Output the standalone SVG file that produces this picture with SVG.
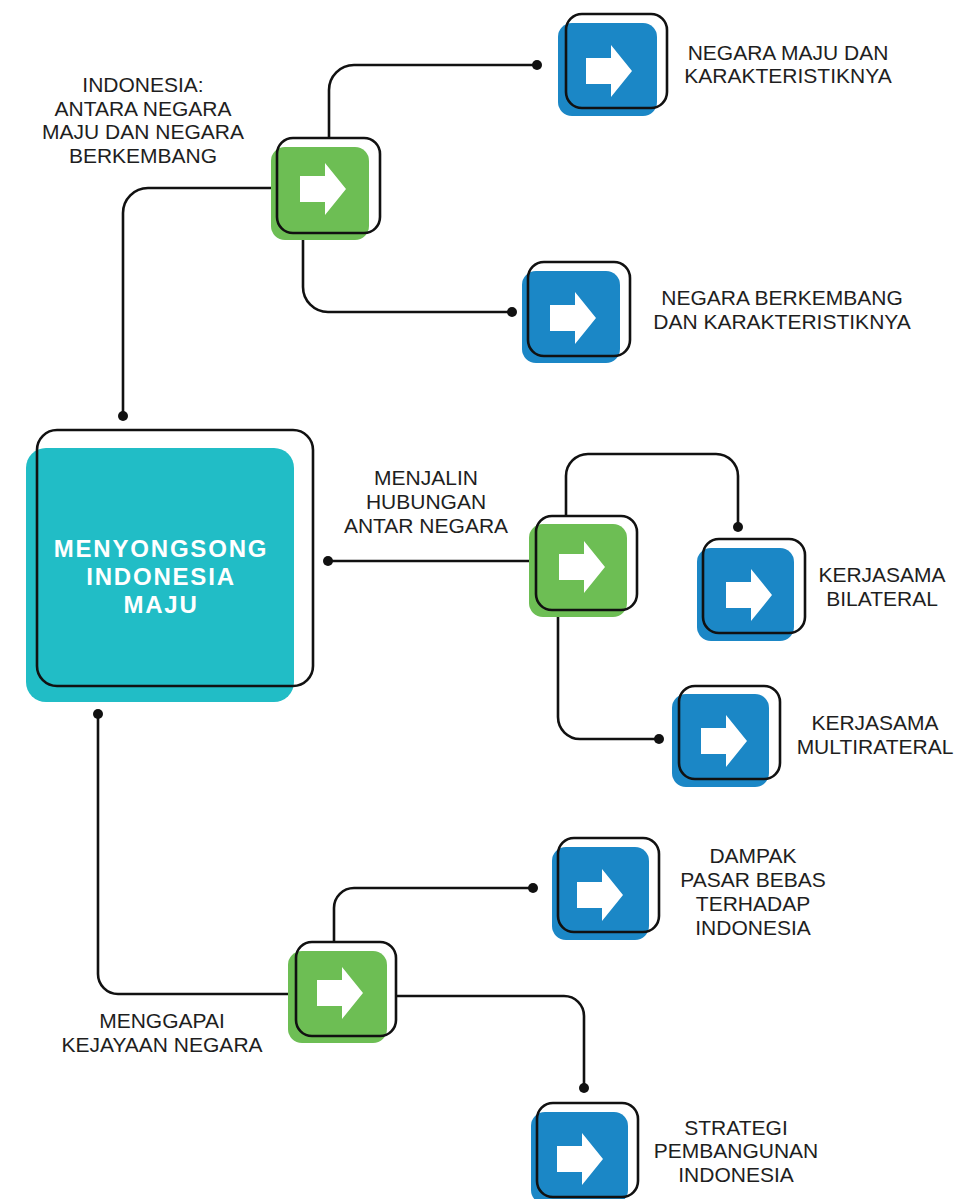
<svg xmlns="http://www.w3.org/2000/svg" xmlns:xlink="http://www.w3.org/1999/xlink" width="954" height="1199" viewBox="0 0 954 1199">
<style>
.gf{fill:#6dbe54}
.bf{fill:#1b87c6}
.tf{fill:#21bdc6}
.ol{fill:none;stroke:#111;stroke-width:2.6}
.arr{fill:#fff}
.con{fill:none;stroke:#111;stroke-width:2.6}
.dot{fill:#111}
.lbl{font-family:"Liberation Sans",Arial,sans-serif;font-size:21px;fill:#1e1e1e;text-anchor:middle}
.main{font-family:"Liberation Sans",Arial,sans-serif;font-size:24px;font-weight:bold;fill:#fff;text-anchor:middle;letter-spacing:1.8px}
</style>
<defs>
<path id="arrow" d="M0,13 H25 V0 L46,26 L25,52 V39 H0 Z"/>
</defs>
<rect width="954" height="1199" fill="#fff"/>

<g id="connectors">
<path class="con" d="M271,188 H148 A25,25 0 0 0 123,213 V416"/>
<circle class="dot" cx="123" cy="416" r="5"/>
<path class="con" d="M329,138 V90 A25,25 0 0 1 354,65 H537"/>
<circle class="dot" cx="537" cy="65" r="5"/>
<path class="con" d="M303,240 V287 A25,25 0 0 0 328,312 H512"/>
<circle class="dot" cx="512" cy="312" r="5"/>
<path class="con" d="M328,561 H529"/>
<circle class="dot" cx="328" cy="561" r="5"/>
<path class="con" d="M566,516 V476 A22,22 0 0 1 588,454 H716 A22,22 0 0 1 738,476 V527"/>
<circle class="dot" cx="738" cy="527" r="5"/>
<path class="con" d="M558,617 V717 A22,22 0 0 0 580,739 H659"/>
<circle class="dot" cx="659" cy="739" r="5"/>
<path class="con" d="M98,714 V974 A20,20 0 0 0 118,994 H288"/>
<circle class="dot" cx="98" cy="714" r="5"/>
<path class="con" d="M334,942 V908 A20,20 0 0 1 354,888 H533"/>
<circle class="dot" cx="533" cy="888" r="5"/>
<path class="con" d="M396,996 H564 A20,20 0 0 1 584,1016 V1088"/>
<circle class="dot" cx="584" cy="1088" r="5"/>
</g>

<g id="node-main">
<rect class="tf" x="26" y="448" width="268" height="254" rx="20"/>
<rect class="ol" x="37" y="430" width="276" height="256" rx="20"/>
<text class="main" x="161" y="557">MENYONGSONG</text>
<text class="main" x="161" y="585">INDONESIA</text>
<text class="main" x="161" y="613">MAJU</text>
</g>

<g id="node-g1">
<rect class="gf" x="271" y="147" width="98" height="93" rx="14"/>
<rect class="ol" x="277" y="138" width="103" height="95" rx="16"/>
<use href="#arrow" xlink:href="#arrow" class="arr" x="300" y="163"/>
<text class="lbl" x="143" y="92">INDONESIA:</text>
<text class="lbl" x="143" y="115.5">ANTARA NEGARA</text>
<text class="lbl" x="143" y="139">MAJU DAN NEGARA</text>
<text class="lbl" x="143" y="162.5">BERKEMBANG</text>
</g>

<g id="node-b1">
<rect class="bf" x="558" y="23" width="99" height="93" rx="14"/>
<rect class="ol" x="566" y="14" width="101" height="94" rx="16"/>
<use href="#arrow" xlink:href="#arrow" class="arr" x="586" y="45"/>
<text class="lbl" x="788" y="60">NEGARA MAJU DAN</text>
<text class="lbl" x="788" y="83">KARAKTERISTIKNYA</text>
</g>

<g id="node-b2">
<rect class="bf" x="522" y="271" width="98" height="92" rx="14"/>
<rect class="ol" x="528" y="262" width="102" height="94" rx="16"/>
<use href="#arrow" xlink:href="#arrow" class="arr" x="550" y="292"/>
<text class="lbl" x="782" y="305">NEGARA BERKEMBANG</text>
<text class="lbl" x="782" y="329">DAN KARAKTERISTIKNYA</text>
</g>

<g id="node-g2">
<rect class="gf" x="529" y="524" width="98" height="93" rx="14"/>
<rect class="ol" x="536" y="516" width="101" height="94" rx="16"/>
<use href="#arrow" xlink:href="#arrow" class="arr" x="559" y="541"/>
<text class="lbl" x="426" y="485">MENJALIN</text>
<text class="lbl" x="426" y="509">HUBUNGAN</text>
<text class="lbl" x="426" y="533">ANTAR NEGARA</text>
</g>

<g id="node-b3">
<rect class="bf" x="697" y="548" width="97" height="93" rx="14"/>
<rect class="ol" x="703" y="539" width="102" height="94" rx="16"/>
<use href="#arrow" xlink:href="#arrow" class="arr" x="726" y="569"/>
<text class="lbl" x="882" y="582">KERJASAMA</text>
<text class="lbl" x="882" y="606">BILATERAL</text>
</g>

<g id="node-b4">
<rect class="bf" x="672" y="694" width="97" height="93" rx="14"/>
<rect class="ol" x="679" y="686" width="101" height="93" rx="16"/>
<use href="#arrow" xlink:href="#arrow" class="arr" x="701" y="715"/>
<text class="lbl" x="875" y="730">KERJASAMA</text>
<text class="lbl" x="875" y="754">MULTIRATERAL</text>
</g>

<g id="node-g3">
<rect class="gf" x="288" y="951" width="99" height="92" rx="14"/>
<rect class="ol" x="296" y="942" width="100" height="94" rx="16"/>
<use href="#arrow" xlink:href="#arrow" class="arr" x="317" y="967"/>
<text class="lbl" x="162" y="1028">MENGGAPAI</text>
<text class="lbl" x="162" y="1052">KEJAYAAN NEGARA</text>
</g>

<g id="node-b5">
<rect class="bf" x="552" y="847" width="97" height="93" rx="14"/>
<rect class="ol" x="558" y="838" width="101" height="94" rx="16"/>
<use href="#arrow" xlink:href="#arrow" class="arr" x="577" y="869"/>
<text class="lbl" x="753" y="863">DAMPAK</text>
<text class="lbl" x="753" y="887">PASAR BEBAS</text>
<text class="lbl" x="753" y="911">TERHADAP</text>
<text class="lbl" x="753" y="935">INDONESIA</text>
</g>

<g id="node-b6">
<rect class="bf" x="531" y="1112" width="97" height="92" rx="14"/>
<rect class="ol" x="537" y="1103" width="101" height="94" rx="16"/>
<use href="#arrow" xlink:href="#arrow" class="arr" x="557" y="1133"/>
<text class="lbl" x="736" y="1135">STRATEGI</text>
<text class="lbl" x="736" y="1158">PEMBANGUNAN</text>
<text class="lbl" x="736" y="1182">INDONESIA</text>
</g>
</svg>
